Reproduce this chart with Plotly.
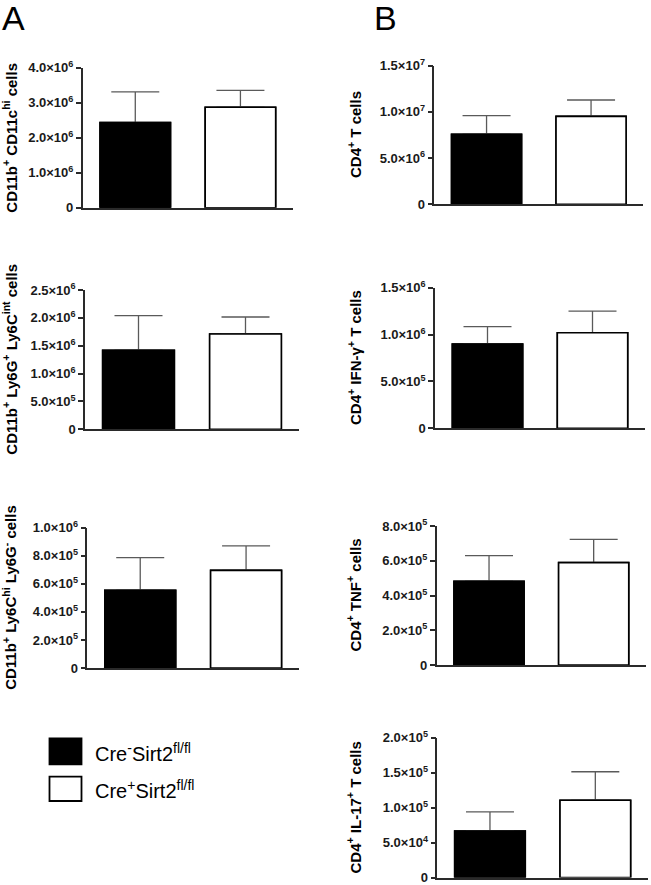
import plotly.graph_objects as go

# ---------------- data ----------------
groups = ["Cre-Sirt2fl/fl", "Cre+Sirt2fl/fl"]
legend_labels = ["Cre<sup>-</sup>Sirt2<sup>fl/fl</sup>", "Cre<sup>+</sup>Sirt2<sup>fl/fl</sup>"]
bar_colors = ["#000000", "#ffffff"]

panel_ids = ["A1", "B1", "A2", "B2", "A3", "B3", "B4"]
panel_titles = [
    "CD11b<sup>+</sup> CD11c<sup>hi</sup> cells",
    "CD4<sup>+</sup> T cells",
    "CD11b<sup>+</sup> Ly6G<sup>+</sup> Ly6C<sup>int</sup> cells",
    "CD4<sup>+</sup> IFN-γ<sup>+</sup> T cells",
    "CD11b<sup>+</sup> Ly6C<sup>hi</sup> Ly6G<sup>-</sup> cells",
    "CD4<sup>+</sup> TNF<sup>+</sup> cells",
    "CD4<sup>+</sup> IL-17<sup>+</sup> T cells",
]

mean_A1 = [2.43e6, 2.87e6]
sem_A1 = [0.88e6, 0.48e6]
mean_B1 = [7.58e6, 9.52e6]
sem_B1 = [2.01e6, 1.77e6]
mean_A2 = [1.42e6, 1.71e6]
sem_A2 = [0.62e6, 0.305e6]
mean_B2 = [0.90e6, 1.02e6]
sem_B2 = [0.184e6, 0.23e6]
mean_A3 = [5.54e5, 6.96e5]
sem_A3 = [2.32e5, 1.74e5]
mean_B3 = [4.82e5, 5.89e5]
sem_B3 = [1.47e5, 1.34e5]
mean_B4 = [6.64e4, 1.104e5]
sem_B4 = [2.74e4, 4.07e4]

means = [mean_A1, mean_B1, mean_A2, mean_B2, mean_A3, mean_B3, mean_B4]
sems = [sem_A1, sem_B1, sem_A2, sem_B2, sem_A3, sem_B3, sem_B4]

tickvals_A1 = [0, 1e6, 2e6, 3e6, 4e6]
ticktext_A1 = ["0", "1.0×10<sup>6</sup>", "2.0×10<sup>6</sup>", "3.0×10<sup>6</sup>", "4.0×10<sup>6</sup>"]
tickvals_B1 = [0, 5e6, 1e7, 1.5e7]
ticktext_B1 = ["0", "5.0×10<sup>6</sup>", "1.0×10<sup>7</sup>", "1.5×10<sup>7</sup>"]
tickvals_A2 = [0, 5e5, 1e6, 1.5e6, 2e6, 2.5e6]
ticktext_A2 = ["0", "5.0×10<sup>5</sup>", "1.0×10<sup>6</sup>", "1.5×10<sup>6</sup>", "2.0×10<sup>6</sup>", "2.5×10<sup>6</sup>"]
tickvals_B2 = [0, 5e5, 1e6, 1.5e6]
ticktext_B2 = ["0", "5.0×10<sup>5</sup>", "1.0×10<sup>6</sup>", "1.5×10<sup>6</sup>"]
tickvals_A3 = [0, 2e5, 4e5, 6e5, 8e5, 1e6]
ticktext_A3 = ["0", "2.0×10<sup>5</sup>", "4.0×10<sup>5</sup>", "6.0×10<sup>5</sup>", "8.0×10<sup>5</sup>", "1.0×10<sup>6</sup>"]
tickvals_B3 = [0, 2e5, 4e5, 6e5, 8e5]
ticktext_B3 = ["0", "2.0×10<sup>5</sup>", "4.0×10<sup>5</sup>", "6.0×10<sup>5</sup>", "8.0×10<sup>5</sup>"]
tickvals_B4 = [0, 5e4, 1e5, 1.5e5, 2e5]
ticktext_B4 = ["0", "5.0×10<sup>4</sup>", "1.0×10<sup>5</sup>", "1.5×10<sup>5</sup>", "2.0×10<sup>5</sup>"]

tickvals = [tickvals_A1, tickvals_B1, tickvals_A2, tickvals_B2, tickvals_A3, tickvals_B3, tickvals_B4]
ticktexts = [ticktext_A1, ticktext_B1, ticktext_A2, ticktext_B2, ticktext_A3, ticktext_B3, ticktext_B4]

# ---------------- layout geometry (pixels) ----------------
W, H = 651, 885
panel_px = [  # x0, x1, ytop, ybottom
    (82.7, 293, 67.7, 207.7),
    (434.3, 643.3, 65.7, 204.3),
    (85, 299, 290, 429.3),
    (435, 645, 287.7, 428.3),
    (87.3, 299, 527.7, 668),
    (436.7, 646, 526, 665),
    (437.3, 648, 737.5, 877.5),
]
title_x_px = [10, 354, 10, 354, 10, 354, 354]

FONT = "Liberation Sans, Arial, Helvetica, sans-serif"
AXC = "#2a2a2a"

fig = go.Figure()
layout = dict(
    width=W, height=H,
    margin=dict(l=0, r=0, t=0, b=0, autoexpand=False),
    paper_bgcolor="white", plot_bgcolor="white",
    showlegend=False, barmode="overlay",
    font=dict(family=FONT, color="black"),
)
annotations = []
shapes = []

for i, pid in enumerate(panel_ids):
    n = i + 1
    xs = "" if n == 1 else str(n)
    x0, x1, yt, yb = panel_px[i]
    xdom = [x0 / W, x1 / W]
    ydom = [1 - yb / H, 1 - yt / H]
    xpos = [0, 1]
    # bars with upward error bars
    fig.add_trace(go.Bar(
        x=xpos, y=means[i], width=0.67,
        marker=dict(color=bar_colors, line=dict(color="black", width=1.6)),
        error_y=dict(type="data", symmetric=False, array=sems[i],
                     arrayminus=[0, 0], color="#5a5a5a", thickness=1.3, width=24),
        xaxis="x" + xs, yaxis="y" + xs, hoverinfo="skip",
    ))
    # same bars on top (hide the lower part of the error bars)
    fig.add_trace(go.Bar(
        x=xpos, y=means[i], width=0.67,
        marker=dict(color=bar_colors, line=dict(color="black", width=1.6)),
        xaxis="x" + xs, yaxis="y" + xs, hoverinfo="skip",
    ))
    top = tickvals[i][-1]
    layout["xaxis" + xs] = dict(
        domain=xdom, anchor="y" + xs, range=[-0.5, 1.5],
        showline=True, linecolor=AXC, linewidth=1.5,
        showticklabels=False, ticks="", showgrid=False, zeroline=False,
        fixedrange=True,
    )
    layout["yaxis" + xs] = dict(
        domain=ydom, anchor="x" + xs, range=[0, top],
        showline=True, linecolor=AXC, linewidth=1.5,
        ticks="outside", ticklen=5, tickwidth=1.5, tickcolor=AXC,
        tickvals=tickvals[i], ticktext=ticktexts[i],
        tickfont=dict(family=FONT, size=13, color="#1a1a1a", weight="bold"),
        ticklabeloverflow="allow",
        showgrid=False, zeroline=False, fixedrange=True, automargin=False,
    )
    annotations.append(dict(
        text=panel_titles[i], textangle=-90,
        x=title_x_px[i] / W, y=1 - (yt + yb) / 2 / H,
        xref="paper", yref="paper", xanchor="center", yanchor="middle",
        showarrow=False, font=dict(family=FONT, size=15, color="black", weight="bold"),
    ))

# panel letters
annotations.append(dict(text="A", x=0.0, y=1 + 3 / H, xref="paper", yref="paper",
                        xanchor="left", yanchor="top", showarrow=False,
                        font=dict(family=FONT, size=34, color="black")))
annotations.append(dict(text="B", x=372 / W, y=1 + 3 / H, xref="paper", yref="paper",
                        xanchor="left", yanchor="top", showarrow=False,
                        font=dict(family=FONT, size=34, color="black")))

# legend (swatches + labels)
legend_rows_px = [(738.5, 764.3), (776.7, 801)]
for k in range(2):
    y0p, y1p = legend_rows_px[k]
    shapes.append(dict(type="rect", xref="paper", yref="paper",
                       x0=49.5 / W, x1=81.5 / W, y0=1 - y1p / H, y1=1 - y0p / H,
                       fillcolor=bar_colors[k], line=dict(color="black", width=1.8)))
    annotations.append(dict(text=legend_labels[k], x=93 / W, y=1 - ((y0p + y1p) / 2 + 1) / H,
                            xref="paper", yref="paper", xanchor="left", yanchor="middle",
                            showarrow=False, font=dict(family=FONT, size=20, color="black")))

layout["annotations"] = annotations
layout["shapes"] = shapes
fig.update_layout(**layout)
fig.write_html("out.html", config={"displayModeBar": False},
               post_script="document.body.style.margin='0';document.body.style.overflow='hidden';")
